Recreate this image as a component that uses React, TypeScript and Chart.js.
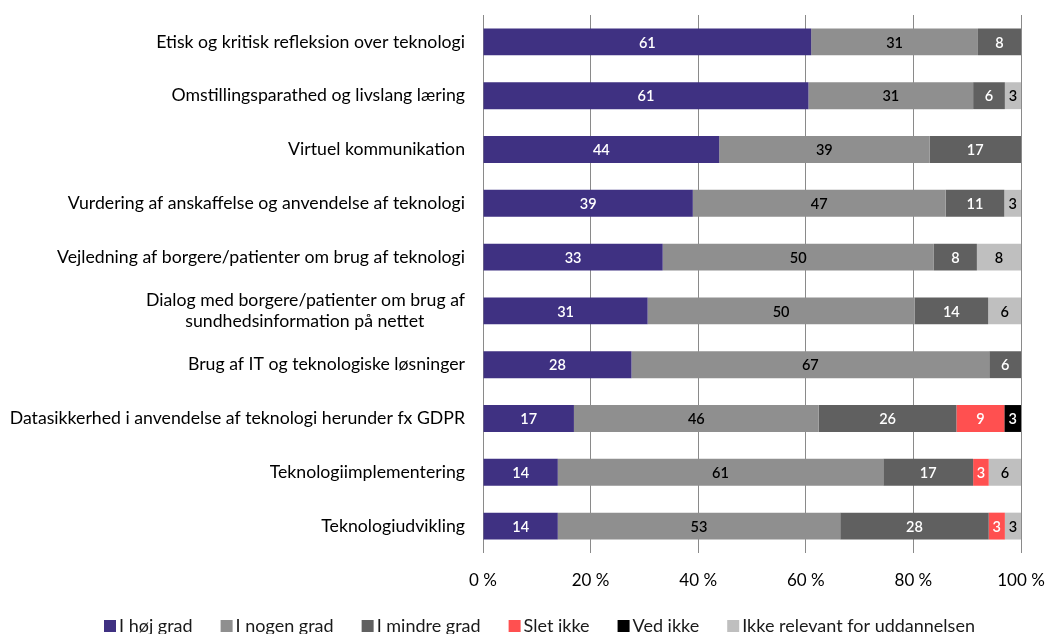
import React, { useEffect, useRef } from "react";
import { Chart, registerables } from "chart.js";

Chart.register(...registerables);

const categories: (string | string[])[] = [
  "Etisk og kritisk refleksion over teknologi",
  "Omstillingsparathed og livslang læring",
  "Virtuel kommunikation",
  "Vurdering af anskaffelse og anvendelse af teknologi",
  "Vejledning af borgere/patienter om brug af teknologi",
  ["Dialog med borgere/patienter om brug af", "sundhedsinformation på nettet         "],
  "Brug af IT og teknologiske løsninger",
  "Datasikkerhed i anvendelse af teknologi herunder fx GDPR",
  "Teknologiimplementering",
  "Teknologiudvikling",
];

const seriesNames = [
  "I høj grad",
  "I nogen grad",
  "I mindre grad",
  "Slet ikke",
  "Ved ikke",
  "Ikke relevant for uddannelsen",
];

const hojGrad = [61, 60.5, 43.9, 39.0, 33.4, 30.6, 27.6, 16.9, 13.9, 13.9];
const nogenGrad = [31, 30.6, 39.1, 47.0, 50.4, 49.6, 66.5, 45.5, 60.5, 52.5];
const mindreGrad = [8, 5.9, 17.0, 10.9, 8.0, 13.7, 5.9, 25.6, 16.7, 27.6];
const sletIkke = [null, null, null, null, null, null, null, 8.9, 2.9, 3.0];
const vedIkke = [null, null, null, null, null, null, null, 3.1, null, null];
const ikkeRelevant = [null, 3.0, null, 3.1, 8.2, 6.1, null, null, 6.0, 3.0];

const xTicks = [0, 20, 40, 60, 80, 100];

const seriesColors = ["#3F3182", "#8F8F8F", "#606060", "#FF5050", "#000000", "#BFBFBF"];
const labelColors = ["#FFFFFF", "#000000", "#FFFFFF", "#FFFFFF", "#FFFFFF", "#000000"];

const FONT = "Lato";

const valueLabelPlugin = {
  id: "valueLabels",
  afterDatasetsDraw(chart: any) {
    const ctx = chart.ctx;
    ctx.save();
    ctx.font = `600 14.5px ${FONT}`;
    ctx.textAlign = "center";
    ctx.textBaseline = "middle";
    chart.data.datasets.forEach((ds: any, di: number) => {
      const meta = chart.getDatasetMeta(di);
      if (meta.hidden) return;
      meta.data.forEach((bar: any, i: number) => {
        const v = ds.data[i];
        if (v === null || v === undefined || v === 0) return;
        const p = bar.getProps(["x", "y", "base"], true);
        const cx = (p.x + p.base) / 2;
        ctx.fillStyle = labelColors[di];
        ctx.fillText(String(Math.round(v)), cx, p.y + 1);
      });
    });
    ctx.restore();
  },
};

const bottomLegendPlugin = {
  id: "bottomLegend",
  afterDraw(chart: any) {
    const ctx = chart.ctx;
    ctx.save();
    ctx.font = `18px ${FONT}`;
    ctx.textBaseline = "middle";
    ctx.textAlign = "left";
    const y = chart.height - 8;
    let x = 104;
    const box = 12;
    const gap = 28;
    chart.data.datasets.forEach((ds: any) => {
      ctx.fillStyle = ds.backgroundColor;
      ctx.fillRect(x, y - box / 2, box, box);
      ctx.fillStyle = "#1a1a1a";
      const tx = x + box + 3;
      ctx.fillText(ds.label, tx, y);
      x = tx + ctx.measureText(ds.label).width + gap;
    });
    ctx.restore();
  },
};

export default function App() {
  const canvasRef = useRef<HTMLCanvasElement | null>(null);

  useEffect(() => {
    if (!canvasRef.current) return;
    const allSeries = [hojGrad, nogenGrad, mindreGrad, sletIkke, vedIkke, ikkeRelevant];
    const chart = new Chart(canvasRef.current, {
      type: "bar",
      data: {
        labels: categories,
        datasets: allSeries.map((d, i) => ({
          label: seriesNames[i],
          data: d as any,
          backgroundColor: seriesColors[i],
          borderWidth: 0,
          barPercentage: 0.5,
          categoryPercentage: 1,
        })),
      },
      options: {
        indexAxis: "y",
        animation: false,
        responsive: false,
        maintainAspectRatio: false,
        layout: { padding: { left: 0, right: 26, top: 15, bottom: 46 } },
        plugins: {
          legend: { display: false },
          tooltip: { enabled: false },
        },
        scales: {
          x: {
            stacked: true,
            min: 0,
            max: 100,
            afterBuildTicks: (scale: any) => {
              scale.ticks = xTicks.map((v) => ({ value: v }));
            },
            afterFit: (scale: any) => {
              scale.height = 35;
              scale.paddingLeft = 0;
              scale.paddingRight = 0;
            },
            ticks: {
              padding: 17,
              color: "#000000",
              font: { family: FONT, size: 17 },
              callback: (v: any) => `${v} %`,
            },
            grid: { color: "#8a8a8a", lineWidth: 1, drawTicks: false },
            border: { display: false },
          },
          y: {
            stacked: true,
            afterFit: (scale: any) => {
              scale.width = 483;
              scale.paddingTop = 0;
              scale.paddingBottom = 0;
            },
            ticks: {
              padding: 18,
              color: "#000000",
              font: { family: FONT, size: 17.7 },
              autoSkip: false,
            },
            grid: { display: false, drawTicks: false },
            border: { display: false },
          },
        },
      },
      plugins: [valueLabelPlugin, bottomLegendPlugin],
    } as any);
    return () => chart.destroy();
  }, []);

  return (
    <div
      style={{
        position: "fixed",
        left: 0,
        top: 0,
        width: 1047,
        height: 634,
        overflow: "hidden",
        background: "#ffffff",
      }}
    >
      <canvas ref={canvasRef} width={1047} height={634} style={{ width: 1047, height: 634, display: "block" }} />
    </div>
  );
}
